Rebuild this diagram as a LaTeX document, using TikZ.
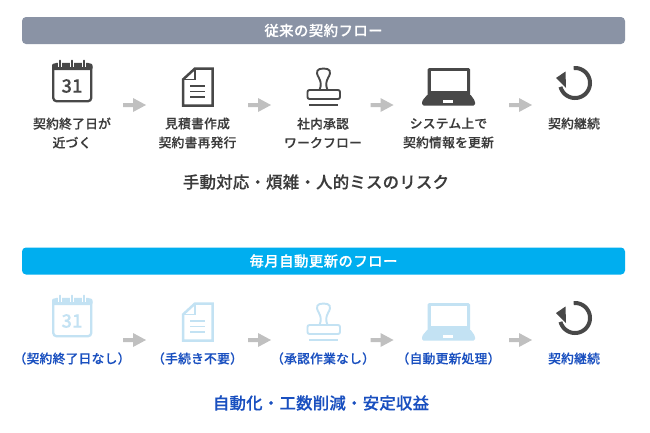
\documentclass[tikz,border=0pt]{standalone}
\usepackage{fontspec}
\newfontfamily\jpm[LetterSpace=2,FakeBold=0.2]{Noto Sans CJK JP Medium}
\newfontfamily\jpb[LetterSpace=1.5,FakeBold=0.3]{Noto Sans CJK JP Medium}
\newfontfamily\jph[LetterSpace=3,FakeBold=0.3]{Noto Sans CJK JP Medium}
\newfontfamily\jpd[FakeBold=0.2]{Noto Sans CJK JP Medium}
\definecolor{hdgray}{HTML}{8A93A5}
\definecolor{hdblue}{HTML}{00AEEF}
\definecolor{txtdark}{HTML}{3C3C3C}
\definecolor{icondark}{HTML}{484848}
\definecolor{iconlight}{HTML}{C3E2F3}
\definecolor{txtblue}{HTML}{1A50C0}
\definecolor{arrowgray}{HTML}{C0C0C0}
\tikzset{
  hdbar/.style={rounded corners=4pt,minimum width=603pt,minimum height=27pt,inner sep=0pt,text=white,font=\jph\fontsize{14.4}{16}\selectfont,anchor=center},
  lab/.style={inner sep=0pt,align=center,anchor=center,font=\jpm\fontsize{12.75}{19}\selectfont},
  mainlab/.style={inner sep=0pt,anchor=center,font=\jpb\fontsize{16.4}{20}\selectfont},
  blockarrow/.style={fill=arrowgray,draw=none}
}
\newcommand{\blockarr}[2]{\fill[blockarrow] (#1,#2-2) -- (#1+10,#2-2) -- (#1+10,#2-7) -- (#1+23,#2) -- (#1+10,#2+7) -- (#1+10,#2+2) -- (#1,#2+2) -- cycle;}
\newcommand{\calicon}[3]{\begin{scope}[shift={(0,#1)}]
  \draw[#2,line width=2.3pt,rounded corners=3.5pt] (53.2,64) rectangle (91.3,101.3);
  \fill[#2,rounded corners=2pt] (52,63.5) rectangle (92.5,70);
  \foreach \rx in {60,72,84}{\draw[white,line width=4.6pt] (\rx,58) -- (\rx,66.5);\draw[#2,line width=2pt,line cap=round] (\rx,60.5) -- (\rx,67.5);}
  \node[inner sep=0pt,text=#2,font=\jpd\fontsize{18.5}{20}\selectfont] (#3) at (72,86) {31};
\end{scope}}
\newcommand{\docicon}[3]{\begin{scope}[shift={(0,#1)}]
  \draw[#2,line width=2.5pt,miter limit=2] (195,68.5) -- (212.5,68.5) -- (212.5,105.5) -- (183,105.5) -- (183,79.5) -- cycle;
  \draw[#2,line width=1.6pt,line join=miter] (183,79.5) -- (195,79.5) -- (195,68.5);
  \foreach \ly in {86,91.5,97}{\draw[#2,line width=1.6pt] (190,\ly) -- (205,\ly);}
  \coordinate (#3) at (197.5,87);
\end{scope}}
\newcommand{\stampicon}[3]{\begin{scope}[shift={(0,#1)}]
  \draw[#2,line width=1.9pt,line join=round] (319.5,90) .. controls (321.5,85) and (321,82) .. (319,78) .. controls (315,71.5) and (317,68.5) .. (323.5,68.5) .. controls (330,68.5) and (332,71.5) .. (328,78) .. controls (326,82) and (325.5,85) .. (327.5,90);
  \draw[#2,line width=1.9pt,rounded corners=2pt,fill=white] (307.5,90) rectangle (340,99);
  \fill[#2] (309,103.5) rectangle (337.5,106);
  \coordinate (#3) at (323.5,87);
\end{scope}}
\newcommand{\lapicon}[3]{\begin{scope}[shift={(0,#1)}]
  \fill[#2,rounded corners=1.5pt] (427.5,68) rectangle (470,96);
  \fill[white] (431,71) rectangle (467,91);
  \fill[#2,rounded corners=1.5pt] (428,94) -- (470,94) -- (475,101) -- (475,105.5) -- (422,105.5) -- (422,101) -- cycle;
  \fill[white] (443,100) rectangle (453,103);
  \coordinate (#3) at (448.5,87);
\end{scope}}
\newcommand{\reficon}[2]{\begin{scope}[shift={(0,#1)}]
  \draw[icondark,line width=4pt] plot[domain=-95:165,samples=50] ({575+15*cos(\x)},{83+15*sin(\x)});
  \fill[icondark] (556,78) -- (565.5,71.5) -- (566,88) -- cycle;
  \coordinate (#2) at (575,83);
\end{scope}}
\begin{document}
\begin{tikzpicture}[x=1pt,y=-1pt]
\useasboundingbox (0,0) rectangle (650,432);
\fill[white] (0,0) rectangle (650,432);
% upper flow
\node[hdbar,fill=hdgray] (h1) at (323.5,30.5) {従来の契約フロー};
\calicon{0}{icondark}{ua}
\docicon{0}{icondark}{ub}
\stampicon{0}{icondark}{uc}
\lapicon{0}{icondark}{ud}
\reficon{0}{ue}
\blockarr{123}{105}\blockarr{248}{105}\blockarr{370.5}{105}\blockarr{509}{105}
\node[lab,text=txtdark] (l1) at (72,133) {契約終了日が\\近づく};
\node[lab,text=txtdark] (l2) at (197.5,133) {見積書作成\\契約書再発行};
\node[lab,text=txtdark] (l3) at (323,133) {社内承認\\ワークフロー};
\node[lab,text=txtdark] (l4) at (448.5,133) {システム上で\\契約情報を更新};
\node[lab,text=txtdark] (l5) at (574,123.5) {契約継続};
\node[mainlab,text=txtdark] (m1) at (316,182) {手動対応・煩雑・人的ミスのリスク};
% lower flow
\node[hdbar,fill=hdblue] (h2) at (323.5,261) {毎月自動更新のフロー};
\calicon{235}{iconlight}{la}
\docicon{235}{iconlight}{lb}
\stampicon{235}{iconlight}{lc}
\lapicon{235}{iconlight}{ld}
\reficon{235}{le}
\blockarr{123}{340}\blockarr{248}{340}\blockarr{370.5}{340}\blockarr{509}{340}
\node[lab,text=txtblue] (b1) at (72,358.5) {（契約終了日なし）};
\node[lab,text=txtblue] (b2) at (197.5,358.5) {（手続き不要）};
\node[lab,text=txtblue] (b3) at (323,358.5) {（承認作業なし）};
\node[lab,text=txtblue] (b4) at (448.5,358.5) {（自動更新処理）};
\node[lab,text=txtblue] (b5) at (574,358.5) {契約継続};
\node[mainlab,text=txtblue] (m2) at (321,403) {自動化・工数削減・安定収益};
\end{tikzpicture}
\end{document}
